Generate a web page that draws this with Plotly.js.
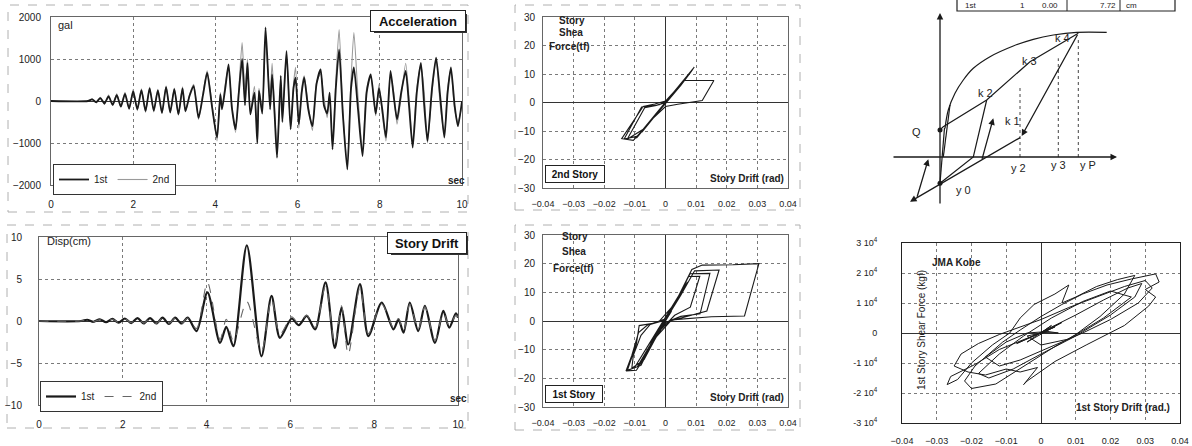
<!DOCTYPE html>
<html><head><meta charset="utf-8">
<script src="https://cdn.plot.ly/plotly-3.0.1.min.js"></script>
<style>html,body{margin:0;padding:0;background:#fff}#chart{width:1192px;height:446px}</style>
</head><body><div id="chart"></div>
<script>
// ---------- DATA ----------
// Acceleration (gal) vs time (sec)
const accTime = [0,0.9,1.0,1.1,1.2,1.3,1.4,1.5,1.6,1.7,
  1.8,1.9,2.0,2.1,2.2,2.3,2.4,2.5,2.6,2.7,
  2.8,2.9,3.0,3.1,3.2,3.27,3.37,3.47,3.59,3.7,
  3.8,3.92,4.04,4.12,4.16,4.24,4.32,4.4,4.49,4.57,
  4.65,4.72,4.78,4.85,4.95,5.02,5.06,5.14,5.22,5.33,
  5.38,5.44,5.5,5.59,5.63,5.73,5.83,5.9,5.95,6.03,
  6.1,6.16,6.26,6.36,6.46,6.56,6.64,6.72,6.78,6.85,
  6.93,7.01,7.1,7.21,7.3,7.37,7.47,7.58,7.68,7.78,
  7.9,7.98,8.06,8.15,8.26,8.34,8.42,8.52,8.63,8.71,
  8.8,8.9,9.0,9.08,9.16,9.27,9.37,9.47,9.57,9.65,
  9.73,9.82,9.9,10.0];
const acc1st = [0,0,40,-30,70,-60,110,-90,140,-130,
  170,-180,230,-200,260,-240,300,-230,250,-280,
  330,-270,280,-320,300,-240,120,360,-400,150,
  675,-150,-870,160,-200,300,870,-150,-675,200,
  1000,-100,900,-320,200,-1000,240,-300,1750,-200,
  635,-300,-1350,600,-500,1190,-675,300,555,-550,
  200,560,-200,-600,400,750,-100,-300,200,-1150,
  300,1230,-300,-1630,300,800,-200,-1310,200,635,
  -300,300,-200,-870,715,100,-440,200,715,-100,
  -1110,200,910,-100,-950,300,1030,100,-870,200,
  800,-100,-600,0];
const acc2nd = [0,0,50,-40,90,-80,140,-100,170,-150,
  210,-200,280,-230,290,-270,330,-260,280,-300,
  360,-290,310,-340,340,-260,150,400,-440,200,
  720,-100,-950,200,-150,400,820,-100,-750,300,
  1390,200,1000,-250,350,-900,300,-200,1450,100,
  900,-200,-1200,500,-400,1100,-600,400,800,-650,
  300,600,-100,-700,450,650,100,-400,100,-1050,
  500,1700,-200,-1500,500,1630,100,-1200,300,600,
  -350,400,-300,-950,600,200,-550,100,900,100,
  -1000,300,850,200,-1000,200,1000,-100,-800,300,
  750,-200,-500,-100];

// Story drift (cm) vs time (sec)
const driftTime = [0,1.0,1.15,1.3,1.45,1.6,1.75,1.9,2.05,2.2,2.35,2.5,2.65,2.8,2.95,3.1,3.25,3.4,3.55,3.76,
  4.02,4.32,4.47,4.64,4.96,5.31,5.55,5.75,6.03,6.2,6.39,6.59,6.84,7.06,7.22,7.38,7.66,7.86,8.18,8.46,
  8.58,8.70,8.85,9.05,9.21,9.45,9.65,9.79,9.95,10.0];
const drift1st = [0,0,0.15,-0.1,0.2,-0.15,0.25,-0.2,0.3,-0.25,0.35,-0.3,0.35,-0.3,0.4,-0.35,0.4,-0.3,0.4,-1.2,
  3.4,-2.6,-0.7,-3.0,9.0,-4.2,3.0,-2.0,0.3,-0.5,0.6,-1.0,4.6,-3.2,1.6,-2.8,4.4,-1.8,2.2,-1.0,
  0.2,-1.4,2.2,-1.2,1.8,-2.6,1.2,-0.8,0.9,0.4];
const drift2nd = [0,0,0.1,-0.1,0.15,-0.1,0.2,-0.15,0.25,-0.2,0.3,-0.25,0.3,-0.3,0.35,-0.3,0.35,-0.3,0.35,-0.9,
  4.6,-2.2,0.2,-2.4,2.3,-3.6,2.6,-1.6,0.5,-0.3,0.7,-0.8,4.2,-2.8,1.8,-4.0,4.0,-1.5,2.0,-0.8,
  0.3,-1.2,2.0,-1.0,1.7,-2.3,1.0,-0.6,0.7,0.5];

// 2nd story hysteresis: drift (rad), shear force (tf)
const hys2Drift = [0,0.002,-0.002,0.004,-0.004,0.003,-0.006,0.006,-0.008,0.0058,0.0158,0.012,0.004,0.0,-0.004,-0.008,
  -0.0105,-0.0143,-0.0073,-0.0035,0.0,0.004,0.0094,0.006,0.002,-0.003,-0.007,-0.0125,-0.0068,-0.003,0.0,0.003,
  0.0085,0.005,-0.005,-0.009,-0.0135,-0.0078,-0.002,0.001,0.0075,0.002,-0.0065,0.005,
  -0.0072,0.0068,-0.0084,0.0079,-0.0091,0.0088,-0.0062,0.0071,-0.0095,0.0082,-0.0056,0.0064,-0.0088,0.009,-0.0077,0.0052,0];
const hys2Force = [0,2.6,-2.6,5.2,-5.2,4,-7.8,7.6,-10.3,7.7,7.7,0.7,-0.6,-1.4,-5.5,-10.3,
  -13.3,-12.7,-1.4,-0.5,0.5,5.2,12.4,8,2.5,-3.8,-9.2,-12.9,-1.8,-1.0,0.0,3.8,
  11,6,-6.5,-11.8,-12.8,-1.6,-0.8,1.2,9.8,2.2,-8.6,6.4,
  -9.8,8.6,-11.2,10.2,-12.0,11.4,-8.4,9.0,-12.5,10.6,-7.6,8.2,-11.6,11.8,-10.4,6.6,0];

// 1st story hysteresis: drift (rad), shear force (tf)
const hys1Drift = [0,0.002,-0.002,0.004,-0.004,0.003,-0.006,0.005,-0.008,0.006,0.0075,0.0112,0.0081,0.003,-0.002,-0.007,
  -0.0095,-0.0125,-0.0095,-0.0086,-0.004,0,0.004,0.008,0.0145,0.0113,0.005,0.0,-0.005,-0.008,-0.0129,-0.011,
  -0.0088,-0.006,-0.002,0.003,0.0086,0.012,0.022,0.0305,0.0258,0.015,0.007,0.002,-0.003,-0.007,-0.011,-0.0105,
  -0.008,-0.005,0,0.005,0.0095,0.0175,0.0135,0.006,0,-0.004,-0.0075,-0.0035,
  0.0045,-0.0062,0.0058,-0.0085,0.0066,-0.0102,0.0072,-0.0068,0.0052,-0.0092,0.0061,0];
const hys1Force = [0,3.5,-3.5,7.5,-7.5,6,-11,9.5,-15,12,15.5,15.6,4.8,2.0,-3.5,-13,
  -17.2,-17.4,-8,-1.6,-0.8,0.8,8,16.5,16.6,2.5,1.6,-0.5,-9,-15.5,-17.4,-12,
  -4,-1.5,0,6,18,19.5,19.6,20,1.75,1.5,0.7,0.4,-5.5,-13.5,-16.5,-12,
  -5,-1.2,0.3,9,17.5,17.8,3.5,1.2,-0.4,-6,-14,-5,
  8.5,-11.5,11.0,-15.2,12.8,-16.4,13.6,-12.6,10.0,-16.0,11.8,0];

// JMA Kobe: 1st story drift (rad), 1st story shear force (kgf)
const kobeDrift = [0,0.003,-0.004,0.006,-0.007,0.004,-0.012,-0.019,-0.026,-0.027,
  -0.024,-0.02,-0.014,-0.009,-0.006,-0.002,0.004,0.008,0.006,0.010,
  0.016,0.022,0.027,0.024,0.017,0.010,0.004,-0.002,-0.008,-0.013,
  -0.020,-0.022,-0.019,-0.015,-0.011,-0.006,0.0,0.006,0.012,0.019,
  0.026,0.033,0.034,0.030,0.033,0.031,0.024,0.013,0.004,-0.004,
  -0.005,-0.001,-0.006,-0.010,-0.016,-0.021,-0.025,-0.023,-0.018,-0.012,
  -0.006,0.0,0.008,0.016,0.024,0.030,0.032,0.028,0.020,0.012,
  0.006,0.0,-0.006,-0.012,-0.016,-0.010,-0.004,0.002,0.005,0.0,
  0.010,0.018,0.025,0.029,0.027,0.020,0.010,0.0,-0.008,-0.015,
  -0.018,-0.012,-0.005,0.003,0.012,0.020,0.026,0.018,0.008,0.0,
  -0.004,0.0];
const kobeForce = [0,2500,-3000,3500,-3500,2000,-5500,-10500,-14500,-17200,
  -15500,-10000,-4000,0,5000,9500,13000,16000,10000,12000,
  15500,17800,19200,13000,5500,-500,-4500,-9000,-13500,-17000,
  -18500,-16000,-11000,-7000,-3000,1000,5500,9500,13000,16000,
  18000,19700,17000,14500,12000,9000,2500,-4000,-9500,-16000,
  -17200,-11500,-13000,-12000,-14000,-13000,-11000,-7000,-3500,-500,
  2000,4500,8500,12000,15500,17500,15000,10000,4500,0,
  -3000,-6000,-9000,-11000,-8000,-3000,0,500,0,200,
  6000,11000,15000,16500,12000,6000,-1000,-7000,-12000,-15000,
  -13500,-7000,-1000,5000,10500,14000,12000,5000,-2000,-4000,
  -1000,0];
const kobeTickVals = [-30000,-20000,-10000,0,10000,20000,30000];
const kobeTickText = ['-3 10<sup>4</sup>','-2 10<sup>4</sup>','-1 10<sup>4</sup>','0','1 10<sup>4</sup>','2 10<sup>4</sup>','3 10<sup>4</sup>'];

// Restoring-force model schematic (diagram units)
const envX = [0.5,0.83,1.5,2.33,3.33,5.0,7.33,9.33,11.33,13.67,16.67];
const envY = [2.87,4.7,6.37,7.7,8.87,10.03,11.1,11.77,12.2,12.47,12.47];
const skelX = [0,0.33,4.67,9.0,13.83];
const skelY = [2.7,3.03,5.7,9.53,12.37];
const stiffX = [0,0.45];  const stiffY = [-2.63,2.9];
const unloadX = [0.33,1.0]; const unloadY = [0,5.2];
const y0PathX = [0,3.33,4.67]; const y0PathY = [-2.63,0,5.7];
const guideX = [8.0,11.83,13.83];          // y2, y3, yP
const guideTop = [7.0,9.87,12.0];
const pointX = [0,0]; const pointY = [2.7,-2.63];  // Q, y0
const arrowHeadX = [0,17.7,8.17,-3.0,5.33,-1.17];
const arrowHeadY = [14.4,0,2.1,-4.47,3.87,-0.23];
const arrowTailX = [0,-4.8,13.83,8.17,4.17,-2.33];
const arrowTailY = [-4.8,0,12.37,2.03,-0.33,-4.13];
const labelText = ['Q','y 2','y 3','y P','y 0','k 1','k 2','k 3','k 4'];
const labelX = [-2.33,7.83,11.83,14.83,2.33,7.27,4.57,8.9,12.27];
const labelY = [2.53,-1.13,-0.8,-0.8,-3.3,3.63,6.37,9.6,11.87];
const tableText = ['1st','1','0.00','7.72','cm'];

// ---------- CHART ----------
const W = 1192, H = 446;
const px = v => v / W;
const py = v => 1 - v / H;
const FONT = '"Liberation Sans", Arial, sans-serif';
const INK = '#1a1a1a';

function gridAxis(o) {
  return Object.assign({
    showgrid: true, gridcolor: '#7a7a7a', griddash: 'dot', gridwidth: 1,
    zeroline: true, zerolinecolor: '#333', zerolinewidth: 1,
    showline: true, mirror: true, linecolor: '#666', linewidth: 1,
    ticks: '', tickfont: {family: FONT, size: 10, color: '#222'},
    fixedrange: true
  }, o);
}

const traces = [
  {x: accTime, y: acc2nd, xaxis: 'x', yaxis: 'y', type: 'scatter', mode: 'lines', name: '2nd', legendrank: 2,
   legend: 'legend', line: {color: '#9a9a9a', width: 1.1, shape: 'spline', smoothing: 0.6}},
  {x: accTime, y: acc1st, xaxis: 'x', yaxis: 'y', type: 'scatter', mode: 'lines', name: '1st', legendrank: 1,
   legend: 'legend', line: {color: INK, width: 1.8, shape: 'spline', smoothing: 0.6}},
  {x: driftTime, y: drift1st, xaxis: 'x2', yaxis: 'y2', type: 'scatter', mode: 'lines', name: '1st',
   legend: 'legend2', line: {color: INK, width: 2.2, shape: 'spline', smoothing: 0.8}},
  {x: driftTime, y: drift2nd, xaxis: 'x2', yaxis: 'y2', type: 'scatter', mode: 'lines', name: '2nd',
   legend: 'legend2', line: {color: '#666', width: 1.1, dash: 'dash', shape: 'spline', smoothing: 0.8}},
  {x: hys2Drift, y: hys2Force, xaxis: 'x3', yaxis: 'y3', type: 'scatter', mode: 'lines', showlegend: false,
   line: {color: INK, width: 1.1}},
  {x: hys1Drift, y: hys1Force, xaxis: 'x4', yaxis: 'y4', type: 'scatter', mode: 'lines', showlegend: false,
   line: {color: INK, width: 1.1}},
  {x: kobeDrift, y: kobeForce, xaxis: 'x6', yaxis: 'y6', type: 'scatter', mode: 'lines', showlegend: false,
   line: {color: INK, width: 1}},
  // schematic
  {x: envX, y: envY, xaxis: 'x5', yaxis: 'y5', mode: 'lines', showlegend: false, line: {color: INK, width: 1.2, shape: 'spline'}},
  {x: skelX, y: skelY, xaxis: 'x5', yaxis: 'y5', mode: 'lines', showlegend: false, line: {color: INK, width: 1.2}},
  {x: stiffX, y: stiffY, xaxis: 'x5', yaxis: 'y5', mode: 'lines', showlegend: false, line: {color: INK, width: 1.2}},
  {x: unloadX, y: unloadY, xaxis: 'x5', yaxis: 'y5', mode: 'lines', showlegend: false, line: {color: INK, width: 1.2}},
  {x: y0PathX, y: y0PathY, xaxis: 'x5', yaxis: 'y5', mode: 'lines', showlegend: false, line: {color: INK, width: 1.2}},
  {x: pointX, y: pointY, xaxis: 'x5', yaxis: 'y5', mode: 'markers', showlegend: false, marker: {color: INK, size: 5}}
];
guideX.forEach((gx, i) => {
  traces.push({x: [gx, gx], y: [0, guideTop[i]], xaxis: 'x5', yaxis: 'y5', mode: 'lines', showlegend: false,
    line: {color: '#444', width: 1, dash: 'dot'}});
});

const annotations = [];
function txt(t, x, y, o) {
  annotations.push(Object.assign({text: t, x: px(x), y: py(y), xref: 'paper', yref: 'paper', showarrow: false,
    xanchor: 'left', yanchor: 'middle', font: {family: FONT, size: 10, color: '#222'}}, o || {}));
}
function boxed(t, cx, cy, w, h, size, bold) {
  annotations.push({text: bold ? '<b>' + t + '</b>' : t, x: px(cx), y: py(cy), xref: 'paper', yref: 'paper',
    showarrow: false, xanchor: 'center', yanchor: 'middle', width: w, height: h,
    bgcolor: '#fff', bordercolor: '#222', borderwidth: 1, borderpad: 1,
    font: {family: FONT, size: size, color: '#111'}});
}
// left panels
txt('gal', 56, 25, {font: {family: FONT, size: 11, color: '#222'}});
boxed('Acceleration', 418, 21, 92, 18, 13, true);
txt('<b>sec</b>', 446, 180);
txt('Disp(cm)', 45, 241, {font: {family: FONT, size: 11, color: '#222'}});
boxed('Story Drift', 427, 243, 76, 18, 13, true);
txt('<b>sec</b>', 448, 398);
// middle panels
txt('<b>Story</b>', 557, 20); txt('<b>Shea</b>', 557, 33); txt('<b>Force(tf)</b>', 547, 47);
boxed('2nd Story', 575, 174, 56, 14, 10, true);
txt('<b>Story Drift (rad)</b>', 708, 178);
txt('<b>Story</b>', 560, 236); txt('<b>Shea</b>', 560, 252); txt('<b>Force(tf)</b>', 551, 268);
boxed('1st Story', 574, 394, 54, 14, 10, true);
txt('<b>Story Drift (rad)</b>', 708, 397);
// right bottom
txt('<b>JMA Kobe</b>', 930, 262);
txt('1st Story Shear Force (kgf)', 921, 330, {xanchor: 'center', textangle: -90});
txt('<b>1st Story Drift (rad.)</b>', 1172, 407, {xanchor: 'right'});
// table fragment at the top edge
const tablePos = [963, 1018, 1040, 1098, 1124];
tableText.forEach((t, i) => txt(t, tablePos[i], 5.5, {font: {family: FONT, size: 8, color: '#222'}}));
// schematic labels and arrows
labelText.forEach((t, i) => annotations.push({text: t, x: labelX[i], y: labelY[i], xref: 'x5', yref: 'y5',
  showarrow: false, font: {family: FONT, size: 11, color: '#222'}}));
arrowHeadX.forEach((hx, i) => annotations.push({text: '', x: hx, y: arrowHeadY[i], ax: arrowTailX[i], ay: arrowTailY[i],
  xref: 'x5', yref: 'y5', axref: 'x5', ayref: 'y5', showarrow: true, arrowhead: 2, arrowsize: 1,
  arrowwidth: 1.3, arrowcolor: INK}));

const frame = {color: '#b0b0b0', width: 1, dash: 'dash'};
function rect(x0, y0, x1, y1, line, fill) {
  return {type: 'rect', xref: 'paper', yref: 'paper', x0: px(x0), x1: px(x1), y0: py(y1), y1: py(y0),
    line: line, fillcolor: fill || 'rgba(0,0,0,0)', layer: 'below'};
}
const shapes = [
  rect(8, 5, 468, 212, frame), rect(7, 225, 468, 428, frame),
  rect(515, 5, 800, 210, frame), rect(515, 225, 800, 430, frame),
  // shadows behind label boxes
  rect(374, 14, 467, 33, {width: 0}, '#333'),
  rect(391, 236, 468, 255, {width: 0}, '#333'),
  // table fragment
  rect(957, -10, 1175, 11, {color: '#222', width: 1.2}),
  {type: 'line', xref: 'paper', yref: 'paper', x0: px(1067), x1: px(1067), y0: py(11), y1: py(-10), line: {color: '#222', width: 1}},
  {type: 'line', xref: 'paper', yref: 'paper', x0: px(1120), x1: px(1120), y0: py(11), y1: py(-10), line: {color: '#222', width: 1}}
];
shapes[4].layer = 'above'; shapes[5].layer = 'above';

const legendBase = {xanchor: 'left', yanchor: 'top', orientation: 'h', bgcolor: '#fff', bordercolor: '#333',
  borderwidth: 1, font: {family: FONT, size: 10, color: '#222'}, itemwidth: 30, tracegroupgap: 0};

const layout = {
  width: W, height: H, margin: {l: 0, r: 0, t: 0, b: 0},
  paper_bgcolor: '#fff', plot_bgcolor: '#fff',
  font: {family: FONT, size: 10, color: '#222'},
  xaxis: gridAxis({domain: [px(51), px(462)], range: [0, 10], dtick: 2, tick0: 0, anchor: 'y', ticklabelstandoff: 10}),
  yaxis: gridAxis({domain: [py(185), py(17)], range: [-2000, 2000], dtick: 1000, anchor: 'x', ticklabelstandoff: 7}),
  xaxis2: gridAxis({domain: [px(39), px(458)], range: [0, 10], dtick: 2, tick0: 0, anchor: 'y2', ticklabelstandoff: 10}),
  yaxis2: gridAxis({domain: [py(405), py(237)], range: [-10, 10], dtick: 5, anchor: 'x2', ticklabelstandoff: 14}),
  xaxis3: gridAxis({domain: [px(543), px(788)], range: [-0.04, 0.04], dtick: 0.01, tick0: 0, anchor: 'y3', ticklabelstandoff: 7,
    tickfont: {family: FONT, size: 9, color: '#222'}}),
  yaxis3: gridAxis({domain: [py(188), py(17)], range: [-30, 30], dtick: 10, anchor: 'x3', ticklabelstandoff: 5}),
  xaxis4: gridAxis({domain: [px(543), px(788)], range: [-0.04, 0.04], dtick: 0.01, tick0: 0, anchor: 'y4', ticklabelstandoff: 7,
    tickfont: {family: FONT, size: 9, color: '#222'}}),
  yaxis4: gridAxis({domain: [py(407), py(235)], range: [-30, 30], dtick: 10, anchor: 'x4', ticklabelstandoff: 5}),
  xaxis5: {domain: [px(880), px(1140)], range: [-6, 20], visible: false, anchor: 'y5', fixedrange: true},
  yaxis5: {domain: [py(210), py(12)], range: [-5.3, 14.5], visible: false, anchor: 'x5', fixedrange: true},
  xaxis6: gridAxis({domain: [px(902), px(1180)], range: [-0.04, 0.04], dtick: 0.01, tick0: 0, anchor: 'y6', linecolor: '#222',
    ticklabelstandoff: 9, tickfont: {family: FONT, size: 9, color: '#222'}}),
  yaxis6: gridAxis({domain: [py(423), py(243)], range: [-30000, 30000], tickvals: kobeTickVals, ticktext: kobeTickText,
    anchor: 'x6', linecolor: '#222', ticklabelstandoff: 22, tickfont: {family: FONT, size: 9, color: '#222'}}),
  legend: Object.assign({x: px(53), y: py(164)}, legendBase),
  legend2: Object.assign({x: px(40), y: py(381)}, legendBase),
  annotations: annotations,
  shapes: shapes
};

Plotly.newPlot('chart', traces, layout, {staticPlot: true, displayModeBar: false});
</script>
</body></html>
